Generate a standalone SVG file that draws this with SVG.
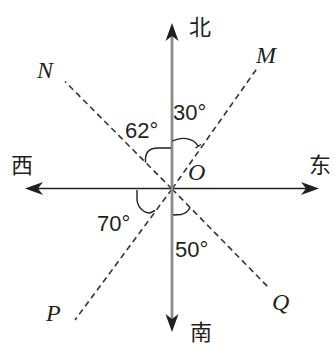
<svg xmlns="http://www.w3.org/2000/svg" width="334" height="345" viewBox="0 0 334 345">
<style>
.axisv{stroke:#8c8c8c;stroke-width:2.8;fill:none}
.axish{stroke:#231f20;stroke-width:1.6;fill:none}
.dash{stroke:#333;stroke-width:1.6;stroke-dasharray:6 4;fill:none}
.arc{stroke:#231f20;stroke-width:1.4;fill:none}
.deg{font-family:"Liberation Sans",Arial,sans-serif;font-size:22px;fill:#231f20}
.pt{font-family:"Liberation Serif","Times New Roman",serif;font-style:italic;font-size:24px;fill:#231f20}
.cn{font-family:"Noto Sans CJK SC",sans-serif;font-size:22px;fill:#231f20}
</style>
<defs>
<marker id="ah" viewBox="-20 -8 21 16" refX="-12" refY="0" markerWidth="21" markerHeight="16" markerUnits="userSpaceOnUse" orient="auto-start-reverse">
<path d="M0,0 L-18,-6.5 L-13,0 L-18,6.5 Z" fill="#231f20"/>
</marker>
</defs>
<g id="connectors">
<line class="dash" x1="172" y1="189" x2="258" y2="67"/>
<line class="dash" x1="172" y1="189" x2="65" y2="81.5"/>
<line class="dash" x1="172" y1="189" x2="75" y2="320"/>
<line class="dash" x1="172" y1="189" x2="270" y2="289"/>
<line class="axish" x1="37" y1="188.5" x2="307" y2="188.5" marker-start="url(#ah)" marker-end="url(#ah)"/>
<line class="axisv" x1="172" y1="35" x2="172" y2="320" marker-start="url(#ah)" marker-end="url(#ah)"/>
</g>
<g id="angles">
<path class="arc" d="M172.5,141 C181,136.5 193,137.5 198,146"/>
<path class="arc" d="M195.5,148 L201,144.5"/>
<path class="arc" d="M171,148 L158,148 C150,148 146,152 145.5,158 L145.5,162.5"/>
<path class="arc" d="M137,190 L137,200 C138,208 144,213 150,213 L155,210.5"/>
<path class="arc" d="M173,215 L181,214.5 C185.5,213.5 188.5,211 190,207.5"/>
</g>
<g id="labels">
<text class="deg" x="173" y="120">30°</text>
<text class="deg" x="125" y="138">62°</text>
<text class="deg" x="97" y="231">70°</text>
<text class="deg" x="175" y="257">50°</text>
<text class="pt" x="188" y="180">O</text>
<text class="pt" x="256" y="63">M</text>
<text class="pt" x="37" y="78">N</text>
<text class="pt" x="46" y="321">P</text>
<text class="pt" x="272" y="310">Q</text>
<text class="cn" x="189" y="35">北</text>
<text class="cn" x="190" y="340">南</text>
<text class="cn" x="11" y="173">西</text>
<text class="cn" x="309" y="173">东</text>
</g>
</svg>
